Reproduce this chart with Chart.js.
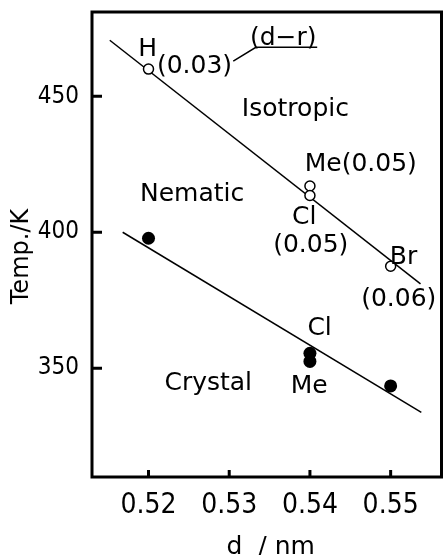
<!DOCTYPE html>
<html lang="en">
<head>
    <meta charset="UTF-8">
    <title>Temp vs d</title>
    <script src="https://cdn.jsdelivr.net/npm/chart.js"></script>
    <style>
        body { margin: 0; background: #fff; }
        .wrap { width: 448px; height: 555px; }
    </style>
</head>
<body>
    <div class="wrap"><canvas id="phaseChart"></canvas></div>

    <script>
        // open circles: nematic -> isotropic (H, Me, Cl, Br)
        const clearD = [0.52, 0.54, 0.54, 0.55];
        const clearT = [460, 417, 413.5, 387.5];
        // filled circles: crystal -> nematic
        const meltD = [0.52, 0.54, 0.54, 0.55];
        const meltT = [397.8, 355.5, 352.5, 343.5];
        // hand drawn straight lines
        const upperLineD = [0.5152, 0.5537];
        const upperLineT = [470.6, 381];
        const lowerLineD = [0.5168, 0.5538];
        const lowerLineT = [400, 333.8];
        // leader from (0.03) to the underlined (d-r)
        const leaderD = [0.5305, 0.5333, 0.5409];
        const leaderT = [462.9, 468.0, 468.0];

        const xTicks = [0.52, 0.53, 0.54, 0.55];
        const yTicks = [350, 400, 450];

        const labelText = ['H', '(0.03)', '(d\u2212r)', 'Isotropic', 'Me(0.05)', 'Nematic', 'Cl', '(0.05)', 'Br', '(0.06)', 'Cl', 'Crystal', 'Me'];
        const labelD = [0.5199, 0.5257, 0.5367, 0.5382, 0.5463, 0.5254, 0.5393, 0.5401, 0.5516, 0.5510, 0.5412, 0.5274, 0.5399];
        const labelT = [467.3, 461, 471.3, 445.2, 425, 414, 405.5, 395.2, 390.8, 375.4, 364.7, 344.5, 343.4];

        const pts = (xs, ys) => xs.map((x, i) => ({ x: x, y: ys[i] }));
        const FONT = 'DejaVu Sans';
        const TICK_FONT = '"Liberation Sans Narrow", "DejaVu Sans Condensed", "DejaVu Sans"';

        const decor = {
            id: 'decor',
            afterDatasetsDraw(chart) {
                const { ctx, chartArea: a, scales: { x, y } } = chart;
                ctx.save();
                ctx.strokeStyle = '#000';
                ctx.lineWidth = 3;
                ctx.strokeRect(a.left, a.top, a.right - a.left, a.bottom - a.top);
                // inward ticks
                ctx.beginPath();
                yTicks.forEach(v => {
                    const py = y.getPixelForValue(v);
                    ctx.moveTo(a.left, py); ctx.lineTo(a.left + 10, py);
                });
                xTicks.forEach(v => {
                    const px = x.getPixelForValue(v);
                    ctx.moveTo(px, a.bottom); ctx.lineTo(px, a.bottom - 7);
                });
                ctx.stroke();
                // text labels
                ctx.fillStyle = '#000';
                ctx.font = '25px "' + FONT + '"';
                ctx.textAlign = 'center';
                ctx.textBaseline = 'middle';
                labelText.forEach((t, i) => {
                    ctx.fillText(t, x.getPixelForValue(labelD[i]), y.getPixelForValue(labelT[i]));
                });
                // axis titles
                ctx.textBaseline = 'alphabetic';
                ctx.fillText('d  / nm', (a.left + a.right) / 2 + 4, a.bottom + 77);
                ctx.translate(a.left - 64, (a.top + a.bottom) / 2 + 12);
                ctx.rotate(-Math.PI / 2);
                ctx.font = '24px "' + FONT + '"';
                ctx.fillText('Temp./K', 0, 0);
                ctx.restore();
            }
        };

        const lineStyle = { type: 'line', borderColor: '#000', borderWidth: 1.5, pointRadius: 0, fill: false };

        new Chart(document.getElementById('phaseChart'), {
            type: 'scatter',
            data: {
                datasets: [
                    Object.assign({ data: pts(upperLineD, upperLineT), order: 3 }, lineStyle),
                    Object.assign({ data: pts(lowerLineD, lowerLineT), order: 3 }, lineStyle),
                    Object.assign({ data: pts(leaderD, leaderT), order: 3 }, lineStyle),
                    {
                        data: pts(clearD, clearT), order: 1,
                        pointRadius: 5, pointBackgroundColor: '#fff', pointBorderColor: '#000', pointBorderWidth: 1.5
                    },
                    {
                        data: pts(meltD, meltT), order: 1,
                        pointRadius: 6.5, pointBackgroundColor: '#000', pointBorderColor: '#000', pointBorderWidth: 0
                    }
                ]
            },
            options: {
                responsive: true,
                maintainAspectRatio: false,
                animation: false,
                layout: { padding: { top: 12, right: 1, left: 0, bottom: 0 } },
                plugins: { legend: { display: false }, tooltip: { enabled: false } },
                scales: {
                    x: {
                        type: 'linear', min: 0.513, max: 0.5563,
                        grid: { display: false }, border: { display: false },
                        afterBuildTicks: s => { s.ticks = xTicks.map(v => ({ value: v })); },
                        afterFit: s => { s.height = 78; s.paddingLeft = 0; s.paddingRight = 0; },
                        ticks: { color: '#000', padding: 4, font: { family: TICK_FONT, size: 28 }, callback: v => v.toFixed(2) }
                    },
                    y: {
                        type: 'linear', min: 310, max: 481,
                        grid: { display: false }, border: { display: false },
                        afterBuildTicks: s => { s.ticks = yTicks.map(v => ({ value: v })); },
                        afterFit: s => { s.width = 92; s.paddingTop = 0; s.paddingBottom = 0; },
                        ticks: { color: '#000', padding: 5, font: { family: TICK_FONT, size: 24 } }
                    }
                }
            },
            plugins: [decor]
        });
    </script>
</body>
</html>
